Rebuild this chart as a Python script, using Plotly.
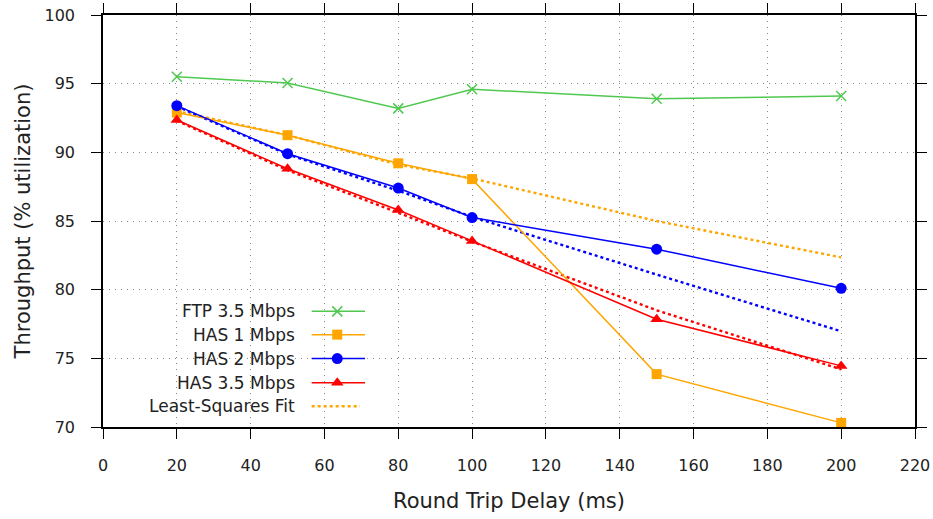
import plotly.graph_objects as go

# Round trip delay (ms)
delay = [20, 50, 80, 100, 150, 200]

# Throughput (% utilization) per flow type
ftp_35 = [95.5, 95.05, 93.2, 94.6, 93.9, 94.1]
has_1 = [92.9, 91.25, 89.2, 88.05, 73.85, 70.3]
has_2 = [93.4, 89.9, 87.4, 85.25, 82.95, 80.1]
has_35 = [92.35, 88.8, 85.8, 83.55, 77.85, 74.45]

# Least-squares fit values evaluated at each delay
fit_has_1 = [93.0, 91.25, 89.1, 88.1, 85.0, 82.35]
fit_has_2 = [93.35, 89.85, 87.2, 85.3, 81.1, 76.97]
fit_has_35 = [92.3, 88.7, 85.6, 83.5, 78.5, 74.2]

x_ticks = list(range(0, 221, 20))
y_ticks = list(range(70, 101, 5))

GREEN = "#50c850"
ORANGE = "#ffa500"
BLUE = "#0000ff"
RED = "#ff0000"
TEXT = "#222222"
FONT = "DejaVu Sans"

series = [
    ("FTP 3.5 Mbps", ftp_35, GREEN, "x-thin", 10),
    ("HAS 1 Mbps", has_1, ORANGE, "square", 10),
    ("HAS 2 Mbps", has_2, BLUE, "circle", 11),
    ("HAS 3.5 Mbps", has_35, RED, "triangle-up", 11),
]
fits = [(fit_has_1, ORANGE), (fit_has_2, BLUE), (fit_has_35, RED)]

fig = go.Figure()

for vals, col in fits:
    fig.add_trace(go.Scatter(x=delay, y=vals, mode="lines",
                             line=dict(color=col, width=2.4, dash="dot"),
                             showlegend=False, hoverinfo="skip"))

for name, vals, col, sym, size in series:
    marker = dict(color=col, size=size, symbol=sym)
    if sym == "x-thin":
        marker["line"] = dict(color=col, width=1.5)
    fig.add_trace(go.Scatter(x=delay, y=vals, mode="lines+markers", name=name,
                             line=dict(color=col, width=1.5), marker=marker,
                             showlegend=False))

# Key drawn inside the plot area: right-aligned labels with samples to their right
key_rows = [(s[0], s[2], s[3], s[4]) for s in series] + [("Least-Squares Fit", ORANGE, None, 0)]
row_y = [0.2807, 0.2242, 0.1661, 0.1072, 0.0504]
text_x, line_x0, line_x1, mark_x, fit_x1 = 0.2385, 0.257, 0.3227, 0.2885, 0.3165
annotations = []
shapes = []
for (label, col, sym, size), yy in zip(key_rows, row_y):
    annotations.append(dict(x=text_x, y=yy, xref="paper", yref="paper", text=label,
                            showarrow=False, xanchor="right", yanchor="middle",
                            font=dict(family=FONT, size=17, color=TEXT)))
    if sym is None:
        shapes.append(dict(type="line", xref="paper", yref="paper", x0=line_x0,
                           x1=fit_x1, y0=yy, y1=yy,
                           line=dict(color=col, width=2.4, dash="dot")))
    else:
        shapes.append(dict(type="line", xref="paper", yref="paper", x0=line_x0, x1=line_x1,
                           y0=yy, y1=yy, line=dict(color=col, width=1.5)))
        marker = dict(color=col, size=size, symbol=sym)
        if sym == "x-thin":
            marker["line"] = dict(color=col, width=1.5)
        fig.add_trace(go.Scatter(x=[mark_x], y=[yy], xaxis="x2", yaxis="y2", mode="markers",
                                 marker=marker, showlegend=False, hoverinfo="skip"))

axis_common = dict(
    showline=True, linecolor="black", linewidth=1.5, mirror="ticks",
    ticks="outside", ticklen=10, tickwidth=1.2, tickcolor="black",
    showgrid=True, gridcolor="#888888", gridwidth=1.2, griddash="1.2px,4.8px",
    zeroline=False, automargin=False,
    tickfont=dict(family=FONT, size=16, color=TEXT),
)

fig.update_layout(
    width=933, height=519,
    margin=dict(l=103, r=18, t=15, b=92, autoexpand=False),
    paper_bgcolor="white", plot_bgcolor="white",
    xaxis=dict(range=[0, 220], tickvals=x_ticks, ticklabelstandoff=13,
               title=dict(text="Round Trip Delay (ms)", standoff=19,
                          font=dict(family=FONT, size=21, color=TEXT)),
               **axis_common),
    yaxis=dict(range=[70, 100], tickvals=y_ticks, ticklabelstandoff=13,
               title=dict(text="Throughput (% utilization)", standoff=8,
                          font=dict(family=FONT, size=21, color=TEXT)),
               **axis_common),
    xaxis2=dict(overlaying="x", range=[0, 1], visible=False, fixedrange=True),
    yaxis2=dict(overlaying="y", range=[0, 1], visible=False, fixedrange=True),
    annotations=annotations,
    shapes=shapes,
    showlegend=False,
)

fig.write_html("out.html")
